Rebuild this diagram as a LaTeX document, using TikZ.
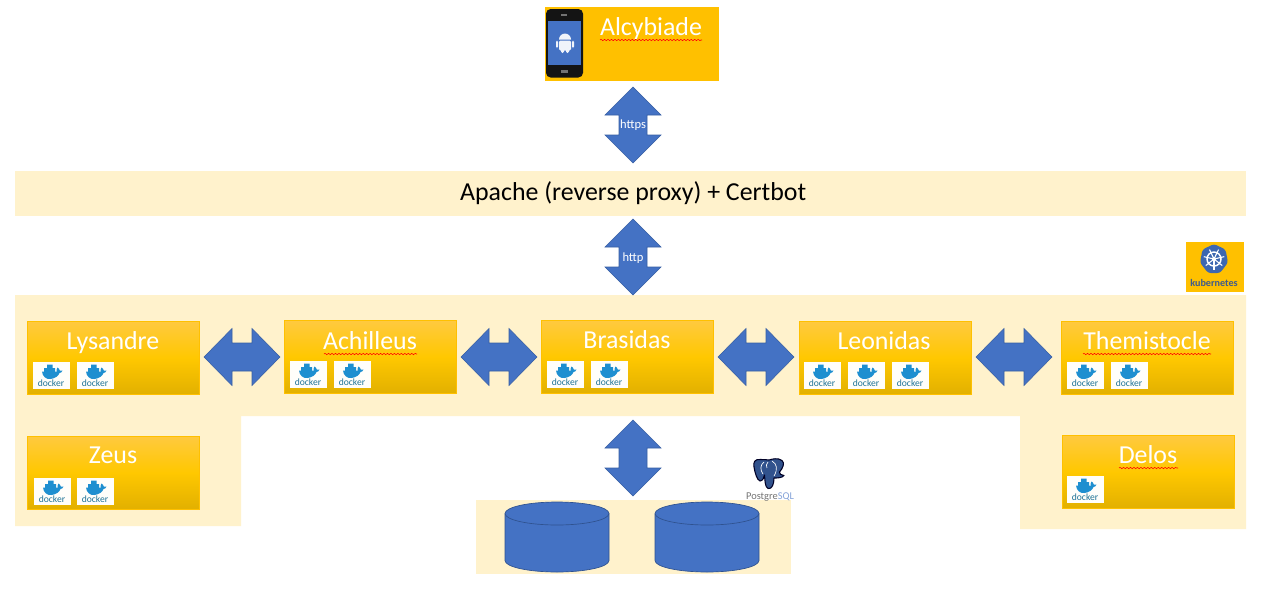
\documentclass[tikz,border=0pt]{standalone}
\usepackage{fontspec}
\setmainfont{Carlito}
\usetikzlibrary{decorations.pathmorphing}
\definecolor{band}{HTML}{FFF2CC}
\definecolor{gold}{HTML}{FFC000}
\definecolor{blueA}{HTML}{4472C4}
\definecolor{blueL}{HTML}{2F528F}
\definecolor{dk}{HTML}{1E8FD0}
\definecolor{dkt}{HTML}{1F7396}
\definecolor{goldT}{HTML}{FFC93F}
\definecolor{goldM}{HTML}{FFC800}
\definecolor{goldB}{HTML}{E2B000}
\pgfdeclareverticalshading{goldgrad}{100bp}{color(0bp)=(goldB);color(25bp)=(goldB);color(50bp)=(goldM);color(75bp)=(goldT);color(100bp)=(goldT)}
\tikzset{
  x=0.75pt,y=-0.75pt,
  goldbox/.style={rectangle,draw=gold,line width=.75pt,shading=goldgrad,minimum width=129pt,minimum height=54.75pt,inner sep=0pt,outer sep=0pt},
  title/.style={text=white,font=\fontsize{19.4}{21}\selectfont,inner sep=0pt,anchor=base},
  arrowlabel/.style={text=white,inner sep=0pt,font=\fontsize{9.4}{10}\selectfont},
  blockarrow/.style={fill=blueA,draw=blueL!60!blueA,line width=.4pt},
  bandfill/.style={fill=band,draw=none},
  squiggle/.style={draw=red,line width=.4pt,decorate,decoration={snake,amplitude=.5pt,segment length=2.6pt}},
  dbshape/.style={fill=blueA,draw=blueL,line width=.5pt},
  arrowV/.pic={\draw[blockarrow] (0,-38) -- (28,-10) -- (14,-10) -- (14,10) -- (28,10) -- (0,38) -- (-28,10) -- (-14,10) -- (-14,-10) -- (-28,-10) -- cycle;},
  arrowH/.pic={\draw[blockarrow] (-38,0) -- (-10,-28.5) -- (-10,-14) -- (10,-14) -- (10,-28.5) -- (38,0) -- (10,28.5) -- (10,14) -- (-10,14) -- (-10,28.5) -- cycle;},
  dbcyl/.pic={
    \draw[dbshape] (-52,-23.5) -- (-52,23.5) arc[start angle=180,end angle=0,x radius=52,y radius=11.5] -- (52,-23.5);
    \draw[dbshape] (0,-23.5) ellipse[x radius=52,y radius=11.5];
  },
  dockericon/.pic={
    \fill[white!90!band] (0,0) rectangle (37,27);
    \fill[dk] (9,9.5) .. controls (9.5,14.5) and (13,17.5) .. (17.5,17) .. controls (22,16.5) and (25.5,14) .. (26.5,11) .. controls (28,11) and (29,10) .. (29.5,8.5) .. controls (28.5,8) and (27.5,8) .. (26.8,8.5) .. controls (26.5,7) and (25.5,6) .. (24.5,5.5) .. controls (23.5,7) and (23.3,8.5) .. (23.8,9.5) -- cycle;
    \fill[dk] (11,6) rectangle (22,10) (14,2.5) rectangle (19.5,6);
    \node[inner sep=0pt,text=dkt,font=\fontsize{7.2}{8}\selectfont] at (18,21.5) {docker};
  }
}
\begin{document}
\begin{tikzpicture}
\useasboundingbox (0,0) rectangle (1263,608);
\fill[white] (0,0) rectangle (1263,608);
% backgrounds
\fill[bandfill] (15,295) -- (1246,295) -- (1246,529) -- (1020,529) -- (1020,416) -- (241,416) -- (241,526) -- (15,526) -- cycle;
\node[fill=band,minimum width=923.25pt,minimum height=33.75pt,inner sep=0pt,font=\fontsize{19.4}{21}\selectfont] (apache) at (630.5,193.5) {\hspace*{4pt}\raisebox{-1.4pt}{Apache (reverse proxy) + Certbot}};
\fill[bandfill] (476,500) rectangle (791,574);
% Alcybiade
\node[fill=gold,minimum width=130.5pt,minimum height=55.5pt,inner sep=0pt] (alc) at (632,44) {};
\fill[black!92,rounded corners=3.5pt] (546,9) rectangle (583,77.5);
\fill[blueA] (548,21) rectangle (581,65);
\fill[black!55] (561,14) rectangle (567,15.5);
\fill[black!55] (561,69.5) rectangle (568,73);
\fill[white!92!blueA] (559,39.5) arc[start angle=180,end angle=360,x radius=6,y radius=6] -- cycle;
\fill[white!92!blueA,rounded corners=1pt] (559,40.5) rectangle (571,50.5);
\fill[white!92!blueA,rounded corners=1pt] (556,40.5) rectangle (558,48) (572,40.5) rectangle (574,48);
\fill[white!92!blueA,rounded corners=1pt] (561,49) rectangle (564,53) (566,49) rectangle (569,53);
\node[title] (talc) at (651,35) {Alcybiade};
\draw[squiggle] (600,40) -- (702,40);
% Kubernetes
\node[fill=gold,minimum width=43.5pt,minimum height=37.5pt,inner sep=0pt] (k8s) at (1215,267) {};
\fill[blueA!90!black,rounded corners=2pt] (1214,244) -- (1225.5,249.5) -- (1228,262.5) -- (1220,273) -- (1208,273) -- (1200,262.5) -- (1202.5,249.5) -- cycle;
\draw[white,line width=1.1pt] (1214,259) circle[radius=7];
\foreach \a in {90,141.4,192.9,244.3,295.7,347.1,398.6}{\draw[white,line width=.8pt] (1214,259) -- ++({\a}:10.5);}
\fill[white] (1214,259) circle[radius=2];
\node[inner sep=0pt,text=blueL!80!gray,font=\fontsize{7.6}{8}\selectfont\bfseries] (tk8s) at (1214,283) {kubernetes};
% Server boxes
\node[goldbox] (lys) at (113.5,358) {};
\node[goldbox] (ach) at (370.5,357) {};
\node[goldbox] (bra) at (627.5,357) {};
\node[goldbox] (leo) at (885,358) {};
\node[goldbox] (the) at (1147.5,358) {};
\node[goldbox] (zeu) at (113.5,472.5) {};
\node[goldbox] (del) at (1148.5,472) {};
\node[title] (tlys) at (113,349) {Lysandre};
\node[title] (tach) at (370,349) {Achilleus};
\node[title] (tbra) at (627,348) {Brasidas};
\node[title] (tleo) at (884,349) {Leonidas};
\node[title] (tthe) at (1147,349) {Themistocle};
\node[title] (tzeu) at (113,463) {Zeus};
\node[title] (tdel) at (1148,463) {Delos};
\draw[squiggle] (324,354) -- (417,354);
\draw[squiggle] (1083,354) -- (1211,354);
\draw[squiggle] (1119,468) -- (1178,468);
% docker icons
\foreach \x/\y in {33/362,77/362,290/361,334/361,547/361,591/361,804/362,848/362,892/362,1067/362,1111/362,34/478,77/478,1067/476}{
  \pic at (\x,\y) {dockericon};
}
% arrows
\pic at (633,125) {arrowV};
\pic at (633,257) {arrowV};
\pic at (633,458) {arrowV};
\node[arrowlabel] (a1) at (633,125) {https};
\node[arrowlabel] (a2) at (633,258) {http};
\pic at (242,357) {arrowH};
\pic at (499,357) {arrowH};
\pic at (756,357) {arrowH};
\pic at (1014,357) {arrowH};
% databases
\pic at (557,537) {dbcyl};
\pic at (707,537) {dbcyl};
% PostgreSQL
\filldraw[fill=blueA!72!black,draw=black!85!blue,line width=.8pt,line join=round] (760,459.5) .. controls (755,459) and (753,462) .. (754,467) .. controls (755,473) and (757,480) .. (760,481) .. controls (763,481) and (764,477) .. (764.5,475) .. controls (765,481) and (765,487) .. (768,488.5) .. controls (772,489.5) and (774,484) .. (774,478) .. controls (777,478) and (782,478) .. (784,475.5) .. controls (781,475) and (779,474) .. (779.5,472) .. controls (783,468) and (785,463) .. (782,460.5) .. controls (778,457.5) and (772,459) .. (769,460) .. controls (766,459.5) and (763,459.5) .. (760,459.5) -- cycle;
\draw[white,line width=.5pt] (764,462) .. controls (760,465) and (760,470) .. (763,474) (772,461) .. controls (777,464) and (778,469) .. (774,476) (768,462) .. controls (766,464) and (766,466) .. (767,468);
\node[inner sep=0pt,font=\fontsize{7.8}{9}\selectfont] (tpg) at (770,497) {\textcolor{black!55}{Postgre}\textcolor{blueA!65}{SQL}};
\end{tikzpicture}
\end{document}
